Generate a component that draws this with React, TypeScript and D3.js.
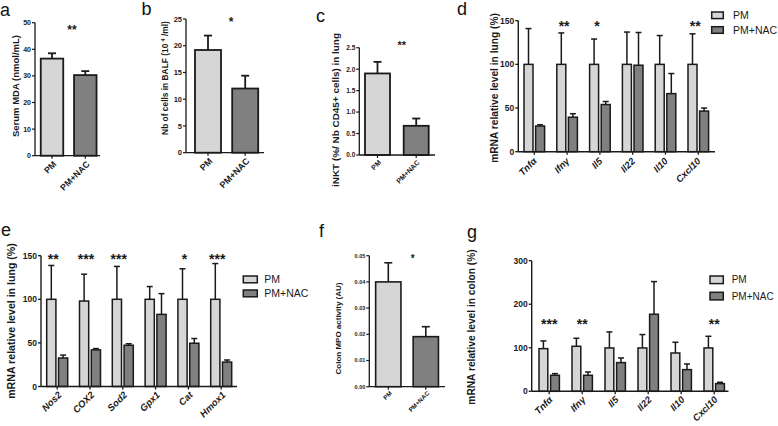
import React from "react";
import * as d3 from "d3";

// ---------- DATA ----------
const groupsSimple = ["PM", "PM+NAC"];

const mdaTicks = [0, 10, 20, 30, 40, 50];
const mdaMean = [36.5, 30.3];
const mdaUpper = [38.5, 31.8];

const balfTicks = [0, 5, 10, 15, 20, 25];
const balfMean = [19.2, 12.0];
const balfUpper = [21.9, 14.4];

const inktTicks = [0, 0.5, 1.0, 1.5, 2.0, 2.5];
const inktMean = [1.9, 0.68];
const inktUpper = [2.17, 0.85];

const mpoTicks = [0, 0.01, 0.02, 0.03, 0.04, 0.05];
const mpoMean = [0.04, 0.0191];
const mpoUpper = [0.0473, 0.0229];

const cytoGenes = ["Tnf\u03b1", "Ifn\u03b3", "Il5", "Il22", "Il10", "Cxcl10"];
const lungCytoTicks = [0, 50, 100, 150];
const lungCytoPM = [100, 100, 100, 100, 100, 100];
const lungCytoPMUpper = [141, 136, 129, 137, 133, 135];
const lungCytoNAC = [29.4, 39.5, 54, 99, 66.5, 46.5];
const lungCytoNACUpper = [30.8, 43.5, 57.5, 136.5, 89.5, 50];
const lungCytoStars = ["", "**", "*", "", "", "**"];

const oxGenes = ["Nos2", "COX2", "Sod2", "Gpx1", "Cat", "Hmox1"];
const lungOxTicks = [0, 50, 100, 150];
const lungOxPM = [100, 98, 100, 100, 100, 100];
const lungOxPMUpper = [138.8, 128.8, 137.7, 114.6, 135, 141];
const lungOxNAC = [32.7, 42, 47.3, 82.7, 49.6, 28];
const lungOxNACUpper = [36, 43.5, 49, 106.5, 55, 30.4];
const lungOxStars = ["**", "***", "***", "", "*", "***"];

const colonTicks = [0, 100, 200, 300];
const colonPM = [98, 103.4, 99.6, 99.6, 88, 99.6];
const colonPMUpper = [115.7, 121.8, 136.4, 130.3, 112.6, 126.4];
const colonNAC = [36.8, 36.8, 65.9, 177, 49.8, 17.6];
const colonNACUpper = [40.6, 44.4, 76.6, 252, 62.8, 20.7];
const colonStars = ["***", "**", "", "", "", "**"];

const legendLabels = ["PM", "PM+NAC"];

// ---------- STYLE ----------
const FONT = "'Liberation Sans', Arial, Helvetica, sans-serif";
const LIGHT = "#d6d6d6";
const DARK = "#808080";
const INK = "#1a1a1a";
const fills = [LIGHT, DARK];

type SingleCfg = {
  means: number[];
  uppers: number[];
  domain: [number, number];
  ticks: number[];
  fmt: (v: number) => string;
  axisX: number;
  axisEnd: number;
  y0: number;
  yTop: number;
  centers: [number, number];
  barW: number;
  capW: number;
  sw: number;
  tickFs: number;
  xFs: number;
  xdx: number;
  xdy: number;
  ylabel: React.ReactNode;
  ylX: number;
  ylY: number;
  ylFs: number;
  ylLen?: number;
  star: string;
  starX: number;
  starY: number;
  starFs: number;
  letter: string;
  lx: number;
  ly: number;
};

function SinglePanel({ c }: { c: SingleCfg }) {
  const y = d3.scaleLinear().domain(c.domain).range([c.y0, c.yTop]);
  const x = d3.scalePoint<string>().domain(groupsSimple).range(c.centers);
  return (
    <g>
      <text x={c.lx} y={c.ly} fontSize={18} fontFamily={FONT} fill="#111">
        {c.letter}
      </text>
      <text
        transform={`translate(${c.ylX},${c.ylY}) rotate(-90)`}
        textAnchor="middle"
        fontSize={c.ylFs}
        fontWeight="bold"
        fontFamily={FONT}
        fill={INK}
        textLength={c.ylLen}
        lengthAdjust={c.ylLen ? "spacingAndGlyphs" : undefined}
      >
        {c.ylabel}
      </text>
      {groupsSimple.map((g, i) => {
        const cx = x(g) as number;
        const top = y(c.means[i]);
        const up = y(c.uppers[i]);
        return (
          <g key={g}>
            <line x1={cx} x2={cx} y1={top} y2={up} stroke={INK} strokeWidth={c.sw} />
            <line x1={cx - c.capW / 2} x2={cx + c.capW / 2} y1={up} y2={up} stroke={INK} strokeWidth={c.sw} />
            <rect
              x={cx - c.barW / 2}
              y={top}
              width={c.barW}
              height={c.y0 - top}
              fill={fills[i]}
              stroke={INK}
              strokeWidth={c.sw}
            />
          </g>
        );
      })}
      <line x1={c.axisX} x2={c.axisX} y1={c.y0} y2={c.yTop} stroke={INK} strokeWidth={1.3} />
      <line x1={c.axisX} x2={c.axisEnd} y1={c.y0} y2={c.y0} stroke={INK} strokeWidth={1.3} />
      {c.ticks.map((t) => (
        <g key={t}>
          <line x1={c.axisX - 3} x2={c.axisX} y1={y(t)} y2={y(t)} stroke={INK} strokeWidth={1.2} />
          <text
            x={c.axisX - 4}
            y={y(t) + c.tickFs * 0.36}
            textAnchor="end"
            fontSize={c.tickFs}
            fontWeight="bold"
            fontFamily={FONT}
            fill={INK}
          >
            {c.fmt(t)}
          </text>
        </g>
      ))}
      {groupsSimple.map((g) => {
        const cx = x(g) as number;
        return (
          <g key={g}>
            <line x1={cx} x2={cx} y1={c.y0} y2={c.y0 + 3} stroke={INK} strokeWidth={1.2} />
            <text
              transform={`translate(${cx + c.xdx},${c.y0 + c.xdy}) rotate(-45)`}
              textAnchor="end"
              fontSize={c.xFs}
              fontWeight="bold"
              fontFamily={FONT}
              fill={INK}
            >
              {g}
            </text>
          </g>
        );
      })}
      <text
        x={c.starX}
        y={c.starY + c.starFs * 0.58}
        textAnchor="middle"
        fontSize={c.starFs}
        fontWeight="bold"
        fontFamily={FONT}
        fill={INK}
      >
        {c.star}
      </text>
    </g>
  );
}

type GroupCfg = {
  cats: string[];
  pm: number[];
  pmUp: number[];
  nac: number[];
  nacUp: number[];
  stars: string[];
  domain: [number, number];
  ticks: number[];
  axisX: number;
  axisEnd: number;
  y0: number;
  yTop: number;
  centers: [number, number];
  barW: number;
  off: number;
  capW: number;
  sw: number;
  tickFs: number;
  xFs: number;
  xdx: number;
  xdy: number;
  ylabel: string;
  ylX: number;
  ylY: number;
  ylFs: number;
  starY: number;
  starFs: number;
  starDx: number;
  letter: string;
  lx: number;
  ly: number;
  legX: number;
  legY: [number, number];
  legW: number;
  legH: number;
  legTx: number;
  legFs: number;
};

function GroupPanel({ c }: { c: GroupCfg }) {
  const y = d3.scaleLinear().domain(c.domain).range([c.y0, c.yTop]);
  const x = d3.scalePoint<string>().domain(c.cats).range(c.centers);
  const series = [
    { vals: c.pm, ups: c.pmUp, dx: -c.off, fill: LIGHT },
    { vals: c.nac, ups: c.nacUp, dx: c.off, fill: DARK },
  ];
  return (
    <g>
      <text x={c.lx} y={c.ly} fontSize={18} fontFamily={FONT} fill="#111">
        {c.letter}
      </text>
      <text
        transform={`translate(${c.ylX},${c.ylY}) rotate(-90)`}
        textAnchor="middle"
        fontSize={c.ylFs}
        fontWeight="bold"
        fontFamily={FONT}
        fill={INK}
      >
        {c.ylabel}
      </text>
      {c.cats.map((g, i) => {
        const gx = x(g) as number;
        return (
          <g key={g}>
            {series.map((s, k) => {
              const cx = gx + s.dx;
              const top = y(s.vals[i]);
              const up = y(s.ups[i]);
              return (
                <g key={k}>
                  <line x1={cx} x2={cx} y1={top} y2={up} stroke={INK} strokeWidth={c.sw} />
                  <line x1={cx - c.capW / 2} x2={cx + c.capW / 2} y1={up} y2={up} stroke={INK} strokeWidth={c.sw} />
                  <rect
                    x={cx - c.barW / 2}
                    y={top}
                    width={c.barW}
                    height={c.y0 - top}
                    fill={s.fill}
                    stroke={INK}
                    strokeWidth={c.sw}
                  />
                </g>
              );
            })}
            {c.stars[i] && (
              <text
                x={gx + c.starDx}
                y={c.starY + c.starFs * 0.58}
                textAnchor="middle"
                fontSize={c.starFs}
                fontWeight="bold"
                fontFamily={FONT}
                fill={INK}
              >
                {c.stars[i]}
              </text>
            )}
          </g>
        );
      })}
      <line x1={c.axisX} x2={c.axisX} y1={c.y0} y2={c.yTop} stroke={INK} strokeWidth={1.4} />
      <line x1={c.axisX} x2={c.axisEnd} y1={c.y0} y2={c.y0} stroke={INK} strokeWidth={1.4} />
      {c.ticks.map((t) => (
        <g key={t}>
          <line x1={c.axisX - 3} x2={c.axisX} y1={y(t)} y2={y(t)} stroke={INK} strokeWidth={1.3} />
          <text
            x={c.axisX - 4}
            y={y(t) + c.tickFs * 0.36}
            textAnchor="end"
            fontSize={c.tickFs}
            fontWeight="bold"
            fontFamily={FONT}
            fill={INK}
          >
            {t}
          </text>
        </g>
      ))}
      {c.cats.map((g) => {
        const gx = x(g) as number;
        return (
          <g key={g}>
            <line x1={gx} x2={gx} y1={c.y0} y2={c.y0 + 3} stroke={INK} strokeWidth={1.3} />
            <text
              transform={`translate(${gx + c.xdx},${c.y0 + c.xdy}) rotate(-45)`}
              textAnchor="end"
              fontSize={c.xFs}
              fontWeight="bold"
              fontStyle="italic"
              fontFamily={FONT}
              fill={INK}
            >
              {g}
            </text>
          </g>
        );
      })}
      {legendLabels.map((l, i) => (
        <g key={l}>
          <rect
            x={c.legX}
            y={c.legY[i]}
            width={c.legW}
            height={c.legH}
            fill={fills[i]}
            stroke={INK}
            strokeWidth={1.5}
          />
          <text
            x={c.legTx}
            y={c.legY[i] + c.legH / 2 + c.legFs * 0.36}
            fontSize={c.legFs}
            fontFamily={FONT}
            fill={INK}
          >
            {l}
          </text>
        </g>
      ))}
    </g>
  );
}

export default function App() {
  const fmt0 = (v: number) => d3.format("d")(v);
  const panelA: SingleCfg = {
    means: mdaMean, uppers: mdaUpper, domain: [0, 50], ticks: mdaTicks, fmt: fmt0,
    axisX: 35, axisEnd: 100, y0: 155.7, yTop: 22.7, centers: [52, 85.3], barW: 22.5, capW: 8, sw: 1.8,
    tickFs: 7, xFs: 8.8, xdx: 5, xdy: 9,
    ylabel: "Serum MDA (nmol/mL)", ylX: 18.5, ylY: 86, ylFs: 9.5,
    star: "**", starX: 72, starY: 27, starFs: 12, letter: "a", lx: 0, ly: 16,
  };
  const panelB: SingleCfg = {
    means: balfMean, uppers: balfUpper, domain: [0, 25], ticks: balfTicks, fmt: fmt0,
    axisX: 186, axisEnd: 264, y0: 152.7, yTop: 19, centers: [208, 245.2], barW: 26, capW: 8, sw: 1.8,
    tickFs: 7.5, xFs: 9, xdx: 5, xdy: 9,
    ylabel: (
      <>
        Nb of cells in BALF (10 <tspan fontSize={5.5} dy={-3}>4</tspan>
        <tspan dy={3}> /ml)</tspan>
      </>
    ),
    ylX: 167.5, ylY: 78, ylFs: 8.4,
    star: "*", starX: 231, starY: 19, starFs: 12, letter: "b", lx: 141.5, ly: 15,
  };
  const panelC: SingleCfg = {
    means: inktMean, uppers: inktUpper, domain: [0, 2.5], ticks: inktTicks, fmt: d3.format(".1f"),
    axisX: 359.3, axisEnd: 435, y0: 155, yTop: 47.7, centers: [377.5, 416.2], barW: 25, capW: 8, sw: 1.8,
    tickFs: 6.5, xFs: 7, xdx: 4, xdy: 8,
    ylabel: "iNKT (%/ Nb CD45+ cells) in lung", ylX: 339, ylY: 110, ylFs: 8.5, ylLen: 154,
    star: "**", starX: 401.7, starY: 43, starFs: 11, letter: "c", lx: 316, ly: 22,
  };
  const panelF: SingleCfg = {
    means: mpoMean, uppers: mpoUpper, domain: [0, 0.05], ticks: mpoTicks, fmt: d3.format(".2f"),
    axisX: 369.3, axisEnd: 445, y0: 386.7, yTop: 255.7, centers: [388.3, 425.8], barW: 25.3, capW: 8, sw: 1.6,
    tickFs: 5.5, xFs: 6.2, xdx: 4, xdy: 7,
    ylabel: "Colon MPO activity (AU)", ylX: 341, ylY: 328.5, ylFs: 8,
    star: "*", starX: 412.7, starY: 256, starFs: 10, letter: "f", lx: 319, ly: 237,
  };
  const panelD: GroupCfg = {
    cats: cytoGenes, pm: lungCytoPM, pmUp: lungCytoPMUpper, nac: lungCytoNAC, nacUp: lungCytoNACUpper,
    stars: lungCytoStars, domain: [0, 150], ticks: lungCytoTicks,
    axisX: 518.3, axisEnd: 715, y0: 151.7, yTop: 20.7, centers: [534.3, 698.3], barW: 9, off: 5.8, capW: 6, sw: 1.5,
    tickFs: 8.5, xFs: 9.5, xdx: 3, xdy: 10,
    ylabel: "mRNA relative level in lung (%)", ylX: 497.5, ylY: 88, ylFs: 10.2,
    starY: 22.7, starFs: 14, starDx: -3, letter: "d", lx: 457, ly: 15,
    legX: 711.7, legY: [12, 26.7], legW: 11.6, legH: 6.6, legTx: 733, legFs: 10.5,
  };
  const panelE: GroupCfg = {
    cats: oxGenes, pm: lungOxPM, pmUp: lungOxPMUpper, nac: lungOxNAC, nacUp: lungOxNACUpper,
    stars: lungOxStars, domain: [0, 150], ticks: lungOxTicks,
    axisX: 41, axisEnd: 237, y0: 386.5, yTop: 255.7, centers: [57.2, 221.2], barW: 9.2, off: 5.9, capW: 6, sw: 1.5,
    tickFs: 8.5, xFs: 9.5, xdx: 5, xdy: 9,
    ylabel: "mRNA relative level in lung (%)", ylX: 14.5, ylY: 321, ylFs: 10.6,
    starY: 256, starFs: 14, starDx: -4, letter: "e", lx: 1, ly: 236,
    legX: 243.3, legY: [276, 290], legW: 14, legH: 6.8, legTx: 264.3, legFs: 10.5,
  };
  const panelG: GroupCfg = {
    cats: cytoGenes, pm: colonPM, pmUp: colonPMUpper, nac: colonNAC, nacUp: colonNACUpper,
    stars: colonStars, domain: [0, 300], ticks: colonTicks,
    axisX: 531.7, axisEnd: 728.5, y0: 391.3, yTop: 260.7, centers: [549.2, 714.2], barW: 8.8, off: 5.8, capW: 6, sw: 1.5,
    tickFs: 8.5, xFs: 9.5, xdx: 4, xdy: 9,
    ylabel: "mRNA relative level in colon (%)", ylX: 474.5, ylY: 327, ylFs: 10.2,
    starY: 321, starFs: 14, starDx: 0, letter: "g", lx: 467, ly: 238,
    legX: 710, legY: [276, 292.3], legW: 13.3, legH: 7.6, legTx: 731.7, legFs: 10,
  };
  return (
    <svg
      width={778}
      height={426}
      viewBox="0 0 778 426"
      style={{ position: "absolute", left: 0, top: 0, background: "#fff" }}
    >
      <rect width={778} height={426} fill="#fff" />
      <SinglePanel c={panelA} />
      <SinglePanel c={panelB} />
      <SinglePanel c={panelC} />
      <GroupPanel c={panelD} />
      <GroupPanel c={panelE} />
      <SinglePanel c={panelF} />
      <GroupPanel c={panelG} />
    </svg>
  );
}
